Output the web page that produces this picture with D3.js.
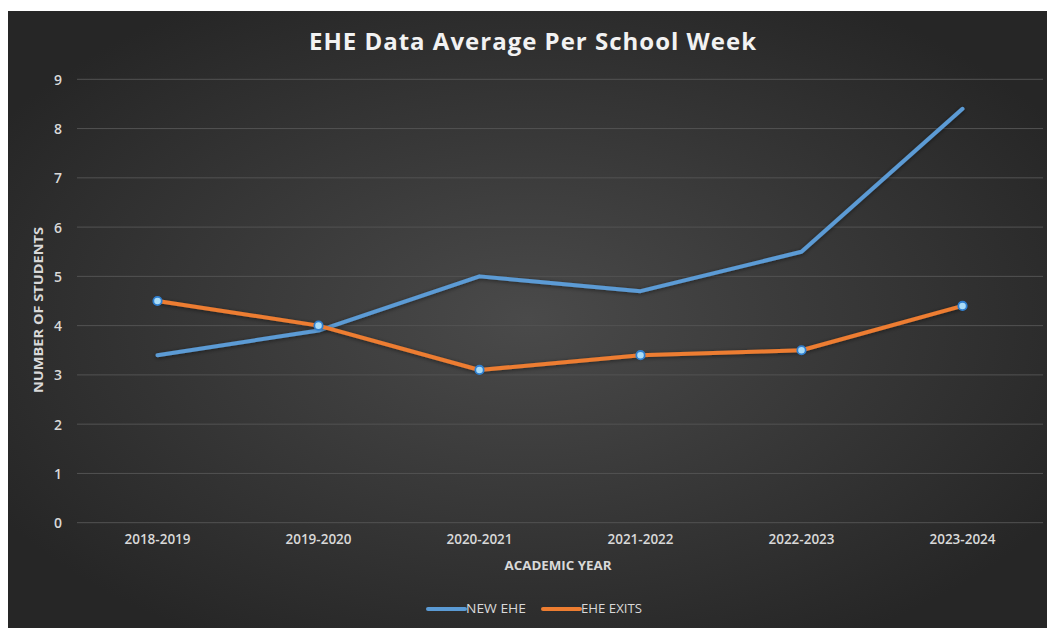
<!DOCTYPE html>
<html><head><meta charset="utf-8">
<script src="https://cdn.jsdelivr.net/npm/d3@7"></script>
<style>
html,body{margin:0;padding:0;background:#fff;}
svg{display:block;}
</style></head>
<body>
<svg id="chart" width="1048" height="628"></svg>
<script>
const categories = ["2018-2019","2019-2020","2020-2021","2021-2022","2022-2023","2023-2024"];
const newEHE = [3.4, 3.9, 5.0, 4.7, 5.5, 8.4];
const eheExits = [4.5, 4.0, 3.1, 3.4, 3.5, 4.4];
const yTicks = [0,1,2,3,4,5,6,7,8,9];
const seriesNames = ["NEW EHE","EHE EXITS"];
const seriesColors = ["#5b9bd5","#ed7d31"];

const svg = d3.select("#chart");
const defs = svg.append("defs");
const rg = defs.append("radialGradient").attr("id","bg")
  .attr("cx","50%").attr("cy","50%").attr("r","60%");
rg.append("stop").attr("offset","0%").attr("stop-color","#4a4a4a");
rg.append("stop").attr("offset","100%").attr("stop-color","#262626");
const sh = defs.append("filter").attr("id","shadow").attr("x","-10%").attr("y","-10%").attr("width","120%").attr("height","120%");
sh.append("feGaussianBlur").attr("in","SourceAlpha").attr("stdDeviation",2).attr("result","b");
sh.append("feOffset").attr("in","b").attr("dx",0).attr("dy",1).attr("result","o");
sh.append("feComponentTransfer").attr("in","o").attr("result","o2")
  .append("feFuncA").attr("type","linear").attr("slope",0.5);
const fm = sh.append("feMerge");
fm.append("feMergeNode").attr("in","o2");
fm.append("feMergeNode").attr("in","SourceGraphic");

svg.append("rect").attr("x",8).attr("y",11).attr("width",1039).attr("height",617).attr("fill","url(#bg)");

const x = d3.scaleBand().domain(categories).range([77,1043]);
const y = d3.scaleLinear().domain([0,9]).range([522.7,79.3]);

// gridlines
svg.append("g").selectAll("line").data(yTicks).join("line")
  .attr("x1",77).attr("x2",1043)
  .attr("y1",d=>y(d)).attr("y2",d=>y(d))
  .attr("stroke","#535353").attr("stroke-width",1);

const fontFam = "'Open Sans', 'DejaVu Sans', sans-serif";

// y axis
const yAxis = d3.axisLeft(y).tickValues(yTicks).tickSize(0).tickPadding(0);
const yg = svg.append("g").attr("transform","translate(62,0)").call(yAxis);
yg.select(".domain").remove();
yg.selectAll("text").attr("fill","#d9d9d9").style("font-family",fontFam).style("font-size","14px").style("font-weight","600").attr("dy","0.35em");

// x axis
const xAxis = d3.axisBottom(x).tickSize(0).tickPadding(0);
const xg = svg.append("g").attr("transform","translate(0,534)").call(xAxis);
xg.select(".domain").remove();
xg.selectAll("text").attr("fill","#d9d9d9").style("font-family",fontFam).style("font-size","13.5px").style("font-weight","600").attr("dy","0.71em");

// title
svg.append("text").attr("x",533).attr("y",50).attr("text-anchor","middle")
  .attr("fill","#f2f2f2").style("font-family",fontFam).style("font-size","24px").style("font-weight","700")
  .style("letter-spacing","1px")
  .text("EHE Data Average Per School Week");

// axis titles
svg.append("text").attr("transform","translate(43,310) rotate(-90)").attr("text-anchor","middle")
  .attr("fill","#d9d9d9").style("font-family",fontFam).style("font-size","12px").style("font-weight","700")
  .attr("textLength",166).attr("lengthAdjust","spacingAndGlyphs")
  .text("NUMBER OF STUDENTS");
svg.append("text").attr("x",558).attr("y",570).attr("text-anchor","middle")
  .attr("fill","#d9d9d9").style("font-family",fontFam).style("font-size","12px").style("font-weight","700")
  .attr("textLength",107).attr("lengthAdjust","spacingAndGlyphs")
  .text("ACADEMIC YEAR");

// lines
const line = d3.line().x((d,i)=>x(categories[i])+x.bandwidth()/2).y(d=>y(d));
const series = [newEHE, eheExits];
svg.append("g").selectAll("path").data(series).join("path")
  .attr("d",d=>line(d)).attr("fill","none")
  .attr("stroke",(d,i)=>seriesColors[i]).attr("stroke-width",4)
  .attr("stroke-linejoin","round").attr("stroke-linecap","round")
  .attr("filter","url(#shadow)");

// markers on exits series
svg.append("g").selectAll("circle").data(eheExits).join("circle")
  .attr("cx",(d,i)=>x(categories[i])+x.bandwidth()/2).attr("cy",d=>y(d))
  .attr("r",4.2).attr("fill","#a9dcf8").attr("stroke","#2f7fd0").attr("stroke-width",1.8);

// legend
const leg = svg.append("g");
const legX = [428, 543];
seriesNames.forEach((n,i)=>{
  leg.append("line").attr("x1",legX[i]).attr("x2",legX[i]+37).attr("y1",609).attr("y2",609)
    .attr("stroke",seriesColors[i]).attr("stroke-width",4).attr("stroke-linecap","round");
  leg.append("text").attr("x",legX[i]+38).attr("y",609).attr("dy","0.35em")
    .attr("fill","#d9d9d9").style("font-family",fontFam).style("font-size","12.5px")
    .attr("textLength", i===0?60:61).attr("lengthAdjust","spacingAndGlyphs")
    .text(n);
});
</script>
</body></html>
